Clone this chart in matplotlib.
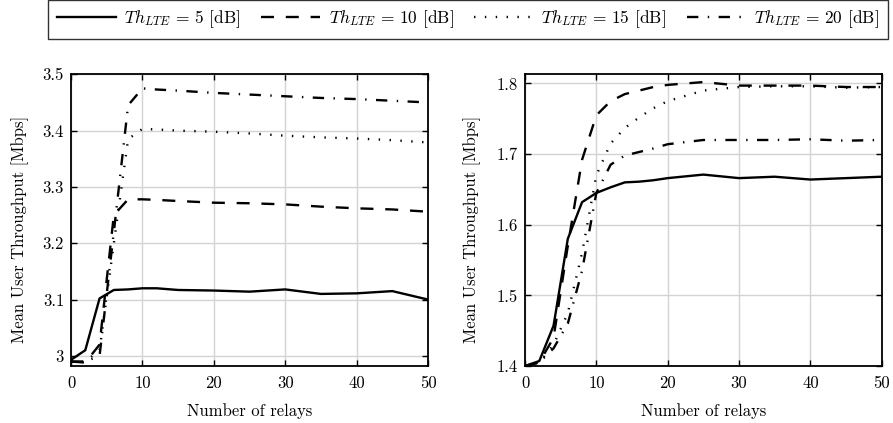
import matplotlib
matplotlib.use("Agg")
import matplotlib.pyplot as plt

plt.rcParams['font.family'] = ['cmr10', 'DejaVu Serif']
plt.rcParams['mathtext.fontset'] = 'cm'
plt.rcParams['axes.formatter.use_mathtext'] = True

# ---- data ----
x_left = [0, 2, 4, 6, 8, 10, 12, 15, 20, 25, 30, 35, 40, 45, 50]
left_th5 = [2.993, 3.010, 3.102, 3.117, 3.118, 3.120, 3.120, 3.117, 3.116, 3.114, 3.118, 3.110, 3.111, 3.115, 3.100]
left_th10 = [2.990, 2.988, 3.020, 3.250, 3.278, 3.278, 3.277, 3.275, 3.272, 3.271, 3.269, 3.265, 3.262, 3.260, 3.256]
left_th15 = [2.990, 2.990, 3.010, 3.200, 3.385, 3.403, 3.402, 3.400, 3.398, 3.395, 3.391, 3.388, 3.386, 3.383, 3.379]
left_th20 = [2.990, 2.990, 3.000, 3.220, 3.445, 3.475, 3.473, 3.471, 3.467, 3.464, 3.461, 3.458, 3.456, 3.453, 3.450]

x_right = [0, 2, 4, 6, 8, 10, 12, 14, 16, 18, 20, 25, 30, 35, 40, 45, 50]
right_th5 = [1.400, 1.407, 1.457, 1.580, 1.632, 1.645, 1.653, 1.660, 1.661, 1.663, 1.666, 1.671, 1.666, 1.668, 1.664, 1.666, 1.668]
right_th10 = [1.400, 1.405, 1.440, 1.570, 1.692, 1.755, 1.775, 1.785, 1.790, 1.795, 1.798, 1.802, 1.797, 1.797, 1.797, 1.795, 1.795]
right_th15 = [1.400, 1.405, 1.430, 1.475, 1.560, 1.670, 1.715, 1.737, 1.752, 1.765, 1.775, 1.790, 1.795, 1.796, 1.796, 1.794, 1.795]
right_th20 = [1.400, 1.405, 1.425, 1.460, 1.535, 1.645, 1.685, 1.698, 1.703, 1.708, 1.714, 1.720, 1.720, 1.720, 1.721, 1.719, 1.720]

legend_labels = [r'$Th_{LTE}\,=\,5$ [dB]', r'$Th_{LTE}\,=\,10$ [dB]',
                 r'$Th_{LTE}\,=\,15$ [dB]', r'$Th_{LTE}\,=\,20$ [dB]']
x_ticks = [0, 10, 20, 30, 40, 50]
left_yticks = [3.0, 3.1, 3.2, 3.3, 3.4, 3.5]
left_yticklabels = ['3', '3.1', '3.2', '3.3', '3.4', '3.5']
right_yticks = [1.4, 1.5, 1.6, 1.7, 1.8]
right_yticklabels = ['1.4', '1.5', '1.6', '1.7', '1.8']
xlabel = 'Number of relays'
ylabel = 'Mean User Throughput [Mbps]'

# ---- style ----
lw = 1.7
styles = [
    dict(linestyle='-'),
    dict(linestyle=(0, (5.5, 5.0))),
    dict(linestyle=(0, (0.6, 4.0))),
    dict(linestyle=(0, (4.8, 4.0, 0.6, 4.0))),
]
FS = 12

fig = plt.figure(figsize=(8.93, 4.23), dpi=100)
ax1 = fig.add_axes([71/893, 1-366/423, (428-71)/893, (366-74.3)/423])
ax2 = fig.add_axes([525/893, 1-366/423, (881.7-525)/893, (366-74.3)/423])

handles = []
for ax, xs, series, yt, ytl, ylim, lx in [
    (ax1, x_left, [left_th5, left_th10, left_th15, left_th20], left_yticks, left_yticklabels, (2.982, 3.5), -0.117),
    (ax2, x_right, [right_th5, right_th10, right_th15, right_th20], right_yticks, right_yticklabels, (1.4, 1.813), -0.124),
]:
    hs = []
    for ys, st, lab in zip(series, styles, legend_labels):
        h, = ax.plot(xs, ys, color='black', lw=lw, label=lab, **st)
        hs.append(h)
    handles = hs
    ax.set_xlim(0, 50)
    ax.set_ylim(*ylim)
    ax.set_xticks(x_ticks)
    ax.set_xticklabels([str(t) for t in x_ticks])
    ax.set_yticks(yt)
    ax.set_yticklabels(ytl)
    ax.grid(True, color='#d3d3d3', lw=1.0)
    ax.set_axisbelow(True)
    ax.tick_params(direction='in', top=True, right=True, labelsize=FS, length=4, width=1)
    ax.tick_params(axis='x', pad=7)
    ax.tick_params(axis='y', pad=5)
    for sp in ax.spines.values():
        sp.set_linewidth(1.3)
    ax.set_xlabel(xlabel, fontsize=FS, labelpad=9)
    ax.set_ylabel(ylabel, fontsize=FS)
    ax.yaxis.set_label_coords(lx, 0.47)

leg = fig.legend(handles, legend_labels, loc='lower left', ncol=4, mode='expand',
                 bbox_to_anchor=(48/893, 1-39/423, (888-48)/893, 35/423),
                 fontsize=12.5, frameon=True, fancybox=False, edgecolor='black',
                 handlelength=3.4, handletextpad=0.5, columnspacing=0.6, borderaxespad=0.0,
                 borderpad=0.5)
leg.get_frame().set_linewidth(1.0)

fig.savefig('out.png', dpi=100)
